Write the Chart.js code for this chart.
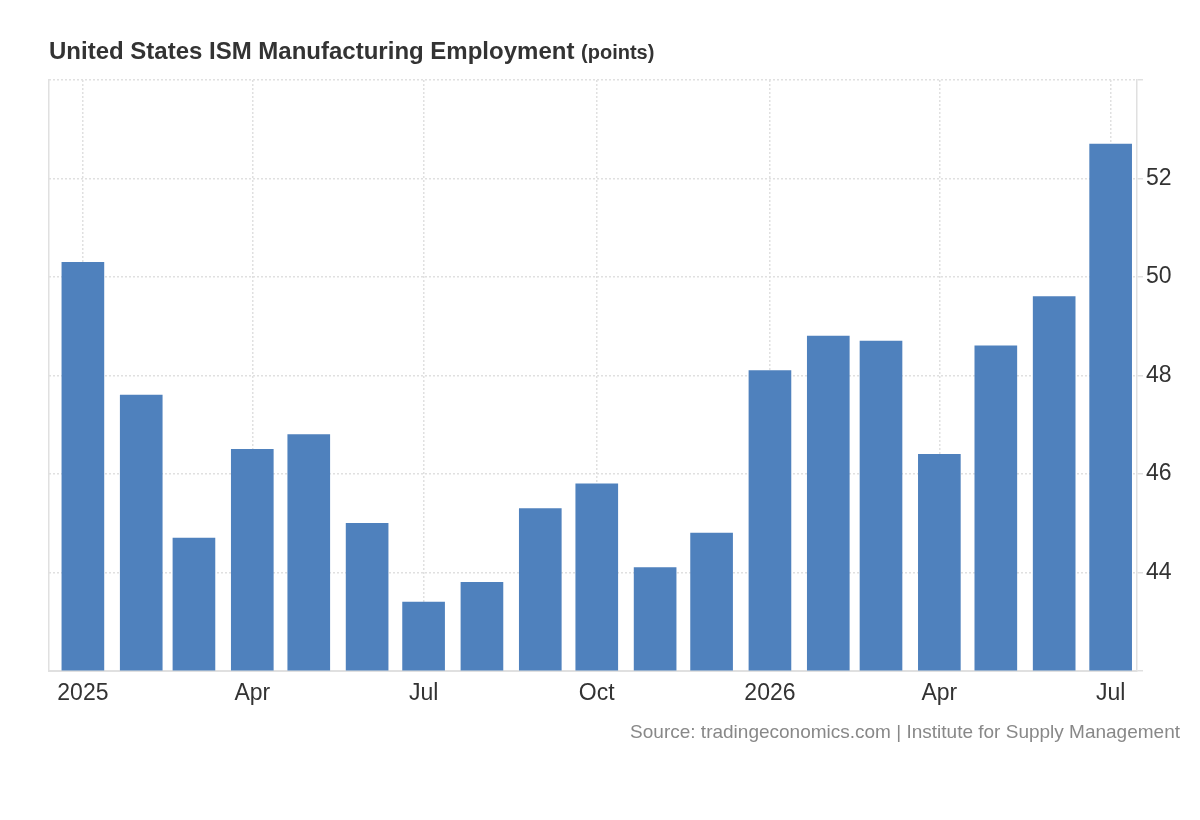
<!DOCTYPE html>
<html>
<head>
<meta charset="utf-8">
<title>United States ISM Manufacturing Employment</title>
<script src="https://cdn.jsdelivr.net/npm/chart.js@4.4.1/dist/chart.umd.min.js"></script>
<style>
    html, body {
        margin: 0;
        padding: 0;
        background: #fff;
        font-family: "Liberation Sans", Arial, sans-serif;
    }
    #wrap {
        position: relative;
        width: 1200px;
        height: 820px;
    }
    #title {
        position: absolute;
        left: 49px;
        top: 37px;
        font-size: 24px;
        font-weight: bold;
        color: #333;
        white-space: nowrap;
    }
    #title span {
        font-size: 20px;
    }
    #source {
        position: absolute;
        right: 20px;
        top: 721px;
        font-size: 19px;
        color: #888;
        white-space: nowrap;
    }
</style>
</head>
<body>
<div id="wrap">
    <canvas id="ismChart"></canvas>
    <div id="title">United States ISM Manufacturing Employment <span>(points)</span></div>
    <div id="source">Source: tradingeconomics.com | Institute for Supply Management</div>
</div>
<script>
// data - START
const MONTHS = [
    '2025-01', '2025-02', '2025-03', '2025-04', '2025-05', '2025-06',
    '2025-07', '2025-08', '2025-09', '2025-10', '2025-11', '2025-12',
    '2026-01', '2026-02', '2026-03', '2026-04', '2026-05', '2026-06',
    '2026-07'
];
const EMPLOYMENT = [
    50.3, 47.6, 44.7, 46.5, 46.8, 45.0,
    43.4, 43.8, 45.3, 45.8, 44.1, 44.8,
    48.1, 48.8, 48.7, 46.4, 48.6, 49.6,
    52.7
];
const TICK_MONTHS = ['2025-01', '2025-04', '2025-07', '2025-10', '2026-01', '2026-04', '2026-07'];
const TICK_LABELS = ['2025', 'Apr', 'Jul', 'Oct', '2026', 'Apr', 'Jul'];
const Y_TICKS = [42, 44, 46, 48, 50, 52, 54];
// data - END

let toTime = (ym, day) => {
    let parts = ym.split('-');
    return Date.UTC(+parts[0], +parts[1] - 1, day || 1);
};

const FONT = '"Liberation Sans", Arial, sans-serif';
const GRID = '#e0e0e0';
const AXIS = '#e0e0e0';

let points = MONTHS.map((m, i) => ({ x: toTime(m), y: EMPLOYMENT[i] }));

let config = {
    type: 'bar',
    data: {
        datasets: [{
            label: 'ISM Manufacturing Employment',
            data: points,
            yAxisID: 'y',
            backgroundColor: '#4f81bd',
            borderWidth: 0,
            barThickness: 42,
            base: 42
        }]
    },
    options: {
        responsive: true,
        maintainAspectRatio: false,
        animation: false,
        layout: {
            padding: { left: 49, top: 80, right: 0, bottom: 109 }
        },
        plugins: {
            legend: { display: false },
            tooltip: { enabled: false }
        },
        scales: {
            x: {
                type: 'linear',
                offset: false,
                min: toTime('2024-12', 14),
                max: toTime('2026-07', 15),
                grid: {
                    offset: false,
                    color: GRID,
                    lineWidth: 1.5,
                    drawTicks: false
                },
                border: {
                    display: true,
                    color: AXIS,
                    width: 2,
                    dash: [2, 2]
                },
                ticks: {
                    autoSkip: false,
                    maxRotation: 0,
                    padding: 9,
                    color: '#333',
                    font: { family: FONT, size: 23 },
                    callback: (value, index) => TICK_LABELS[index]
                },
                afterBuildTicks: (scale) => {
                    scale.ticks = TICK_MONTHS.map((m) => ({ value: toTime(m) }));
                },
                afterFit: (scale) => {
                    scale.height = 40;
                }
            },
            y: {
                position: 'right',
                min: 42,
                max: 54,
                grid: {
                    color: GRID,
                    lineWidth: 1.5,
                    tickLength: 6,
                    tickColor: AXIS
                },
                border: {
                    display: true,
                    color: AXIS,
                    width: 1.5,
                    dash: [2, 2]
                },
                ticks: {
                    padding: 3,
                    color: '#333',
                    font: { family: FONT, size: 23 },
                    callback: (value) => (value === 42 || value === 54) ? '' : value
                },
                afterBuildTicks: (scale) => {
                    scale.ticks = Y_TICKS.map((v) => ({ value: v }));
                },
                afterFit: (scale) => {
                    scale.width = 63;
                }
            },
            yl: {
                position: 'left',
                display: true,
                grid: { display: false },
                ticks: { display: false },
                border: { display: true, color: AXIS, width: 1.5 },
                afterFit: (scale) => {
                    scale.width = 0;
                }
            }
        }
    }
};

let ismChart = new Chart(document.getElementById('ismChart'), config);
</script>
</body>
</html>
